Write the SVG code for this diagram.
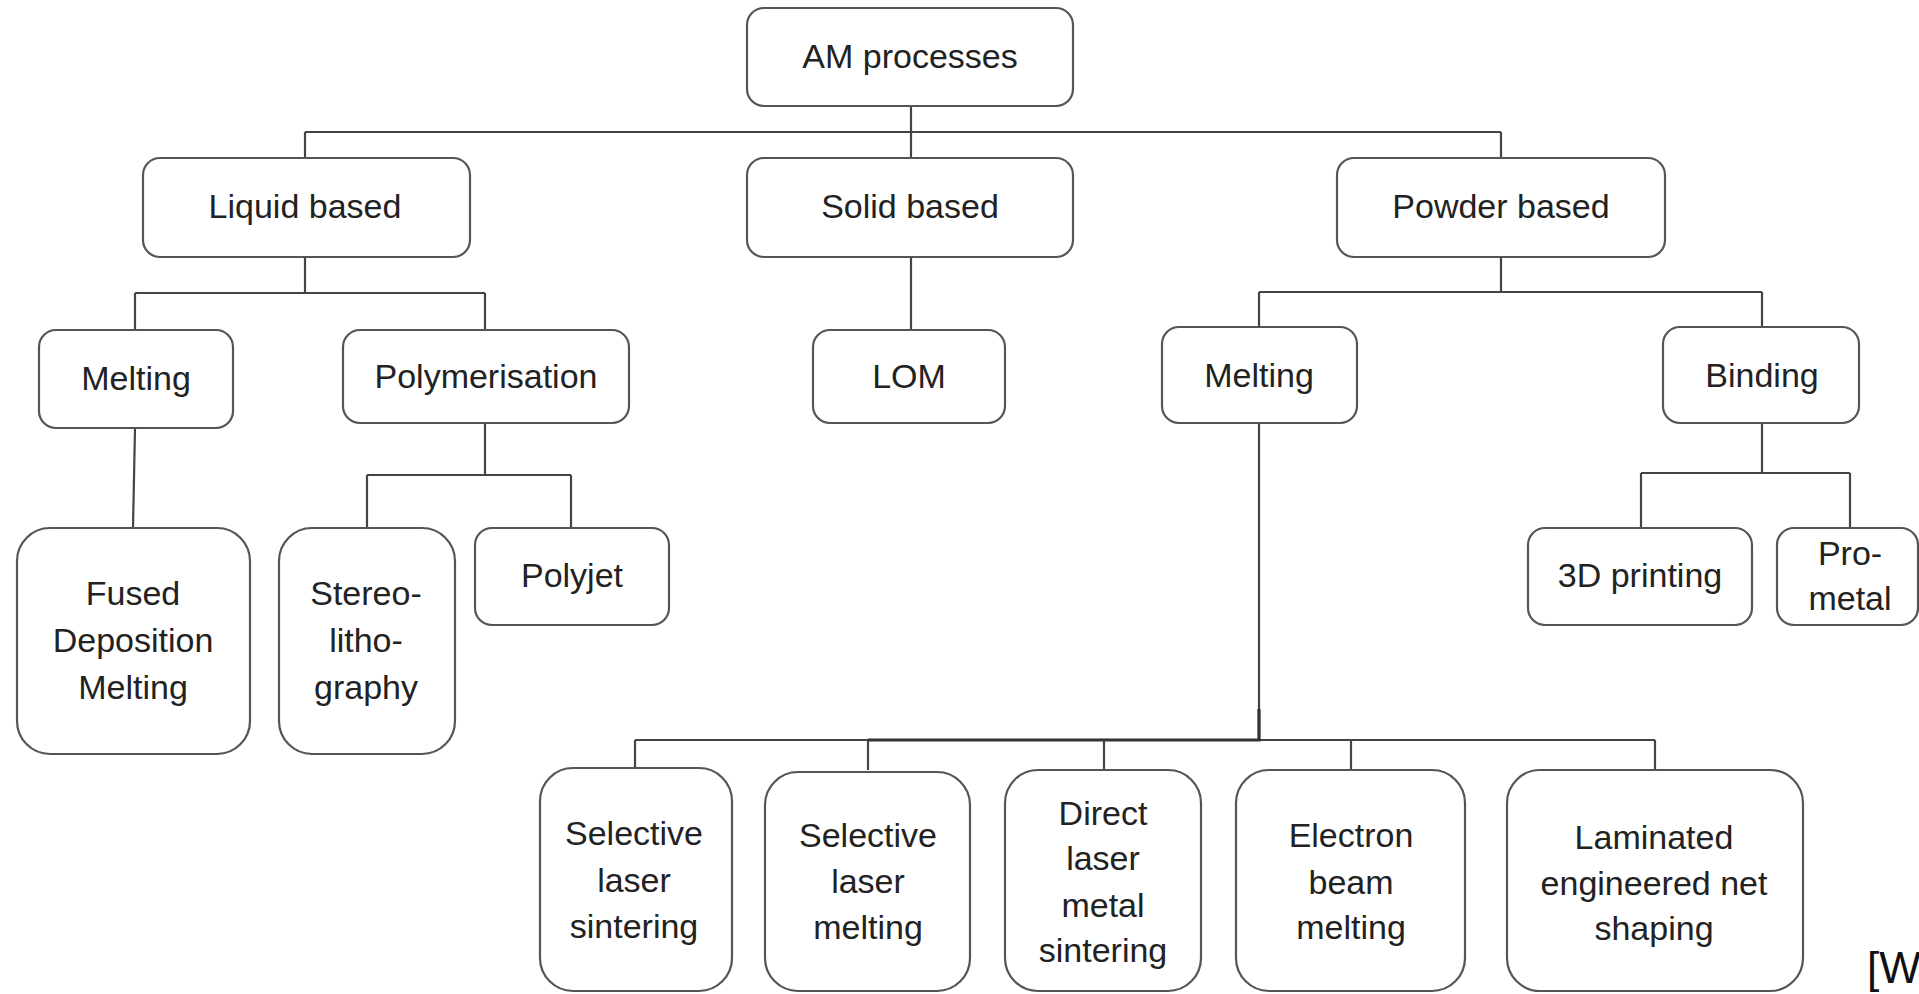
<svg xmlns="http://www.w3.org/2000/svg" width="1919" height="994" viewBox="0 0 1919 994">
<style>
.box{fill:#fff;stroke:#555;stroke-width:2.2}
.lbl{font-family:"Liberation Sans",Arial,sans-serif;font-size:34px;fill:#222;text-anchor:middle}
.con{fill:none;stroke:#444;stroke-width:2.2}
.conb{fill:none;stroke:#333;stroke-width:3.2}
</style>
<rect width="1919" height="994" fill="#fff"/>
<g id="connectors">
<path class="con" d="M911,106 V158"/>
<path class="con" d="M305,132 H1501"/>
<path class="con" d="M305,132 V158"/>
<path class="con" d="M1501,132 V158"/>
<path class="con" d="M305,257 V293 M135,293 H485 M135,293 V330 M485,293 V330"/>
<path class="con" d="M135,428 L133,528"/>
<path class="con" d="M485,423 V475 M367,475 H571 M367,475 V528 M571,475 V528"/>
<path class="con" d="M911,257 V330"/>
<path class="con" d="M1501,257 V292 M1259,292 H1762 M1259,292 V327 M1762,292 V327"/>
<path class="con" d="M1762,423 V473 M1641,473 H1850 M1641,473 V528 M1850,473 V528"/>
<path class="con" d="M1259,423 V740 M635,740 H1655"/>
<path class="conb" d="M868,740 H1259 V709"/>
<path class="con" d="M635,740 V768 M868,740 V770 M1104,740 V770 M1351,740 V770 M1655,740 V770"/>
</g>
<g id="n-am"><rect class="box" x="747" y="8" width="326" height="98" rx="17"/><text class="lbl" x="910" y="68">AM processes</text></g>
<g id="n-liquid"><rect class="box" x="143" y="158" width="327" height="99" rx="17"/><text class="lbl" x="305" y="218">Liquid based</text></g>
<g id="n-solid"><rect class="box" x="747" y="158" width="326" height="99" rx="17"/><text class="lbl" x="910" y="218">Solid based</text></g>
<g id="n-powder"><rect class="box" x="1337" y="158" width="328" height="99" rx="17"/><text class="lbl" x="1501" y="218">Powder based</text></g>
<g id="n-melting-l"><rect class="box" x="39" y="330" width="194" height="98" rx="17"/><text class="lbl" x="136" y="390">Melting</text></g>
<g id="n-poly"><rect class="box" x="343" y="330" width="286" height="93" rx="17"/><text class="lbl" x="486" y="388">Polymerisation</text></g>
<g id="n-lom"><rect class="box" x="813" y="330" width="192" height="93" rx="17"/><text class="lbl" x="909" y="388">LOM</text></g>
<g id="n-melting-r"><rect class="box" x="1162" y="327" width="195" height="96" rx="17"/><text class="lbl" x="1259" y="387">Melting</text></g>
<g id="n-binding"><rect class="box" x="1663" y="327" width="196" height="96" rx="17"/><text class="lbl" x="1762" y="387">Binding</text></g>
<g id="n-fdm"><rect class="box" x="17" y="528" width="233" height="226" rx="33"/><text class="lbl" x="133" y="605">Fused</text><text class="lbl" x="133" y="652">Deposition</text><text class="lbl" x="133" y="699">Melting</text></g>
<g id="n-stereo"><rect class="box" x="279" y="528" width="176" height="226" rx="33"/><text class="lbl" x="366" y="605">Stereo-</text><text class="lbl" x="366" y="652">litho-</text><text class="lbl" x="366" y="699">graphy</text></g>
<g id="n-polyjet"><rect class="box" x="475" y="528" width="194" height="97" rx="17"/><text class="lbl" x="572" y="587">Polyjet</text></g>
<g id="n-3dp"><rect class="box" x="1528" y="528" width="224" height="97" rx="17"/><text class="lbl" x="1640" y="587">3D printing</text></g>
<g id="n-prometal"><rect class="box" x="1777" y="528" width="141" height="97" rx="17"/><text class="lbl" x="1850" y="565">Pro-</text><text class="lbl" x="1850" y="610">metal</text></g>
<g id="n-sls"><rect class="box" x="540" y="768" width="192" height="223" rx="33"/><text class="lbl" x="634" y="845">Selective</text><text class="lbl" x="634" y="892">laser</text><text class="lbl" x="634" y="938">sintering</text></g>
<g id="n-slm"><rect class="box" x="765" y="772" width="205" height="219" rx="33"/><text class="lbl" x="868" y="847">Selective</text><text class="lbl" x="868" y="893">laser</text><text class="lbl" x="868" y="939">melting</text></g>
<g id="n-dlms"><rect class="box" x="1005" y="770" width="196" height="221" rx="33"/><text class="lbl" x="1103" y="825">Direct</text><text class="lbl" x="1103" y="870">laser</text><text class="lbl" x="1103" y="917">metal</text><text class="lbl" x="1103" y="962">sintering</text></g>
<g id="n-ebm"><rect class="box" x="1236" y="770" width="229" height="221" rx="33"/><text class="lbl" x="1351" y="847">Electron</text><text class="lbl" x="1351" y="894">beam</text><text class="lbl" x="1351" y="939">melting</text></g>
<g id="n-lens"><rect class="box" x="1507" y="770" width="296" height="221" rx="33"/><text class="lbl" x="1654" y="849">Laminated</text><text class="lbl" x="1654" y="895">engineered net</text><text class="lbl" x="1654" y="940">shaping</text></g>
<text x="1867" y="983" style="font-family:'Liberation Sans',Arial,sans-serif;font-size:44px;fill:#111">[W</text>
</svg>
